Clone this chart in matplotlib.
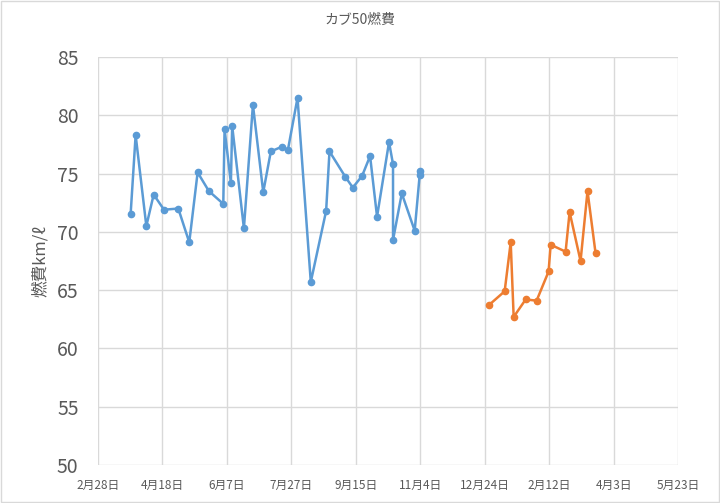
import matplotlib
matplotlib.use("Agg")
import matplotlib.pyplot as plt
import numpy as np
import datetime as dt

plt.rcParams['font.family'] = ['Noto Sans CJK JP', 'DejaVu Sans']

base = dt.datetime(2016, 2, 28)

# day offsets from 2016-02-28 and fuel economy (km/l)
blue_days = [25.3, 29.2, 37.5, 43.2, 51.2, 62.3, 70.8, 77.3, 86.0, 97.2, 98.2, 103.1,
             104.1, 113.2, 120.2, 128.2, 134.1, 142.6, 147.3, 154.8, 165.1, 177.0,
             179.6, 192.0, 197.7, 204.9, 211.1, 216.5, 225.8, 228.9, 228.9, 235.7,
             245.7, 249.6, 249.6]
blue_vals = [71.5, 78.3, 70.5, 73.2, 71.9, 72.0, 69.1, 75.1, 73.5, 72.4, 78.8, 74.2,
             79.1, 70.3, 80.9, 73.4, 76.9, 77.3, 77.0, 81.5, 65.7, 71.8,
             76.9, 74.7, 73.8, 74.8, 76.5, 71.3, 77.7, 75.8, 69.3, 73.3,
             70.1, 74.9, 75.2]
orange_days = [303.1, 315.5, 320.2, 322.5, 331.8, 340.3, 349.6, 351.2, 362.8, 365.9,
               374.4, 379.8, 386.0]
orange_vals = [63.7, 64.9, 69.1, 62.7, 64.2, 64.1, 66.6, 68.9, 68.3, 71.7,
               67.5, 73.5, 68.2]

bx = [base + dt.timedelta(days=d) for d in blue_days]
ox = [base + dt.timedelta(days=d) for d in orange_days]

fig = plt.figure(figsize=(7.2, 5.03), dpi=100)
ax = fig.add_axes([98/720, 1 - 465/503, 580/720, 408/503])

ax.plot(bx, blue_vals, color='#5b9bd5', lw=1.8, marker='o', ms=4.5)
ax.plot(ox, orange_vals, color='#ed7d31', lw=1.8, marker='o', ms=4.5)

ticks = [base + dt.timedelta(days=50 * i) for i in range(10)]
ax.set_xticks(ticks)
ax.set_xticklabels([f"{t.month}月{t.day}日" for t in ticks], fontsize=8.5, color='#595959')
ax.set_xlim(ticks[0], ticks[-1])
ax.set_ylim(50, 85)
ax.set_yticks(np.arange(50, 86, 5))
ax.tick_params(axis='y', labelsize=14, colors='#595959', length=0, pad=14)
ax.tick_params(axis='x', length=0, pad=10)
ax.grid(True, color='#d9d9d9', lw=1)
ax.set_axisbelow(True)
for s in ax.spines.values():
    s.set_visible(False)
ax.set_ylabel('燃費km/ℓ', fontsize=12, color='#595959', labelpad=6,
              family=['Noto Sans CJK JP', 'DejaVu Sans'])
fig.text(0.5, 1 - 20/503, 'カブ50燃費', ha='center', va='center', fontsize=10, color='#595959')
fig.patches.append(plt.Rectangle((0.002, 0.002), 0.996, 0.996, transform=fig.transFigure,
                                 fill=False, ec='#d9d9d9', lw=1))

fig.savefig('out.png', dpi=100)
